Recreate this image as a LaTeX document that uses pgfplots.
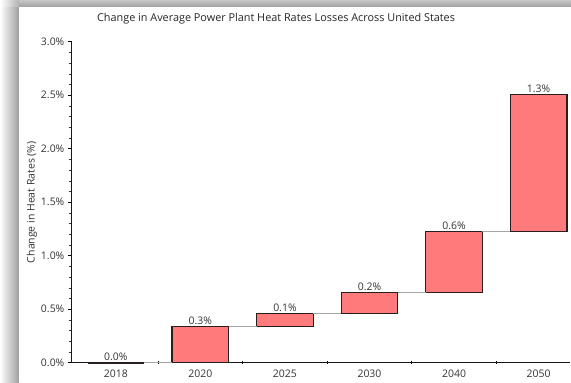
\documentclass[border=0pt]{standalone}
\usepackage{pgfplots}
\pgfplotsset{compat=1.18}
\usepackage{pgfplotstable}
\usepackage{fontspec}
\setmainfont{Open Sans}

\definecolor{barred}{RGB}{255,122,122}
\definecolor{baredge}{RGB}{40,30,30}
\definecolor{linkgray}{RGB}{165,165,165}

% Waterfall: invisible base + visible step for each year, running total on top
\pgfplotstableread{
x   base  delta  top
0   0.00  0.00   0.00
1   0.00  0.34   0.34
2   0.34  0.12   0.46
3   0.46  0.20   0.66
4   0.66  0.57   1.23
5   1.23  1.28   2.51
}\steps

% Connector segments between consecutive bars (level = running total)
\pgfplotstableread{
x      y
0.335  0.00
0.665  0.00
nan    nan
1.335  0.34
1.665  0.34
nan    nan
2.335  0.46
2.665  0.46
nan    nan
3.335  0.66
3.665  0.66
nan    nan
4.335  1.23
4.665  1.23
}\links

\begin{document}
\begin{tikzpicture}[x=1bp,y=1bp]
\path[use as bounding box] (0,0) rectangle (571,382);
% frame shadow
\shade[left color=white, right color=black!38] (0,0) rectangle (19,375);
\shade[top color=black!22, bottom color=black!38] (0,375) rectangle (571,382);
\shade[left color=white, right color=black!30] (0,375) rectangle (19,382);
\fill[white] (19,0) rectangle (571,375);

\begin{axis}[
  at={(85,18)}, anchor=south west,
  scale only axis, width=498bp, height=321bp,
  xmin=-0.52, xmax=5.37,
  ymin=0, ymax=3.0,
  axis x line*=bottom, axis y line*=left,
  axis line style={black!90, line width=0.9pt, -},
  xtick={0,1,2,3,4,5},
  xticklabels={2018,2020,2025,2030,2040,2050},
  major x tick style={draw=none},
  minor xtick={0.5,1.5,2.5,3.5,4.5},
  minor x tick style={black, line width=0.7pt},
  ytick={0,0.5,...,3.0},
  minor y tick num=4,
  major y tick style={black, line width=0.7pt},
  minor y tick style={black!80, line width=0.5pt},
  major tick length=4bp,
  minor tick length=3bp,
  tick align=outside,
  minor x tick style={/pgfplots/tick align=center},
  /pgf/number format/assume math mode=true,
  yticklabel={\pgfmathprintnumber[fixed,fixed zerofill,precision=1]{\tick}\%},
  tick label style={font=\fontsize{10.5}{12}\selectfont, text=black!80},
  ylabel={Change in Heat Rates (\%)},
  every axis y label/.style={at={(axis description cs:-0.08,0.5)}, rotate=90, anchor=center, font=\fontsize{10.5}{12}\selectfont, text=black!80},
  title={Change in Average Power Plant Heat Rates Losses Across United States},
  every axis title/.style={at={(axis description cs:0.41,1.072)}, anchor=center, font=\fontsize{10.9}{13}\selectfont, text=black!85},
  bar width=0.67,
  clip=false,
  unbounded coords=jump,
]
\addplot[ybar stacked, draw=none, fill=none, forget plot] table[x=x, y=base] {\steps};
\addplot[ybar stacked, fill=barred, draw=baredge, line width=1.2pt] table[x=x, y=delta] {\steps};
% connectors
\addplot[stack plots=false, sharp plot, linkgray, line width=0.6pt, no markers] table[x=x, y=y] {\links};
% the zero-height 2018 step shows as a flat line
\addplot[stack plots=false, sharp plot, baredge, line width=1.8pt, no markers] coordinates {(-0.335,0) (0.335,0)};
% step labels at the top of each bar
\addplot[stack plots=false, only marks, mark=none,
  point meta=explicit,
  nodes near coords={\pgfmathprintnumber[fixed,fixed zerofill,precision=1]{\pgfplotspointmeta}\%},
  nodes near coords style={font=\fontsize{10.5}{12}\selectfont, text=black!80, anchor=south, inner sep=1.5bp, /pgf/number format/assume math mode=true},
] table[x=x, y=top, meta=delta] {\steps};
\end{axis}
\end{tikzpicture}
\end{document}
